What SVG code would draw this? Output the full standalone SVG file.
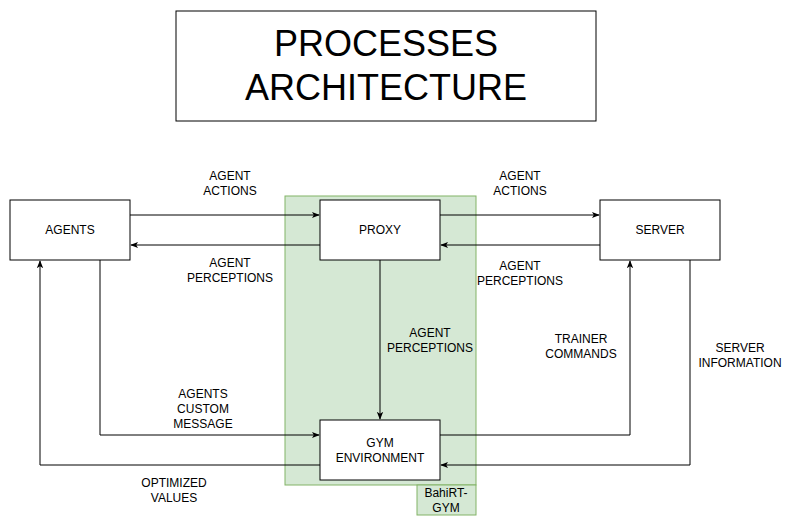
<svg xmlns="http://www.w3.org/2000/svg" width="793" height="526" viewBox="0 0 793 526">
<style>
.box{fill:#fff;stroke:#000;stroke-width:1}
.t{font-family:"Liberation Sans",Arial,sans-serif;font-size:12px;fill:#000;text-anchor:middle}
.e{fill:none;stroke:#000;stroke-width:1}
</style>
<defs>
<marker id="a" viewBox="0 0 10 10" refX="9" refY="5" markerWidth="8" markerHeight="8" markerUnits="userSpaceOnUse" orient="auto">
<path d="M0,1 L10,5 L0,9 L2.5,5 Z" fill="#000"/>
</marker>
</defs>
<rect width="793" height="526" fill="#fff"/>
<g id="title">
<rect class="box" x="176" y="11" width="420" height="110"/>
<text class="t" x="386" y="56" style="font-size:36px">PROCESSES</text>
<text class="t" x="386" y="100" style="font-size:36px">ARCHITECTURE</text>
</g>
<g id="bahirt-gym">
<rect x="285" y="196" width="191" height="289" fill="#d5e8d4" stroke="#82b366"/>
<rect x="417" y="485" width="59" height="30" fill="#d5e8d4" stroke="#82b366"/>
<text class="t" x="446" y="497">BahiRT-</text>
<text class="t" x="446" y="512">GYM</text>
</g>
<g id="connectors">
<path class="e" d="M130,215 H319" marker-end="url(#a)"/>
<path class="e" d="M320,245 H131" marker-end="url(#a)"/>
<path class="e" d="M440,215 H599" marker-end="url(#a)"/>
<path class="e" d="M600,245 H441" marker-end="url(#a)"/>
<path class="e" d="M380,260 V419" marker-end="url(#a)"/>
<path class="e" d="M100,260 V435 H319" marker-end="url(#a)"/>
<path class="e" d="M320,465 H40 V261" marker-end="url(#a)"/>
<path class="e" d="M440,435 H630 V261" marker-end="url(#a)"/>
<path class="e" d="M690,260 V465 H441" marker-end="url(#a)"/>
<text class="t" x="230" y="180">AGENT</text>
<text class="t" x="230" y="195">ACTIONS</text>
<text class="t" x="230" y="267">AGENT</text>
<text class="t" x="230" y="282">PERCEPTIONS</text>
<text class="t" x="520" y="180">AGENT</text>
<text class="t" x="520" y="195">ACTIONS</text>
<text class="t" x="520" y="270">AGENT</text>
<text class="t" x="520" y="285">PERCEPTIONS</text>
<text class="t" x="430" y="337">AGENT</text>
<text class="t" x="430" y="352">PERCEPTIONS</text>
<text class="t" x="581" y="343">TRAINER</text>
<text class="t" x="581" y="358">COMMANDS</text>
<text class="t" x="740" y="352">SERVER</text>
<text class="t" x="740" y="367">INFORMATION</text>
<text class="t" x="203" y="398">AGENTS</text>
<text class="t" x="203" y="413">CUSTOM</text>
<text class="t" x="203" y="428">MESSAGE</text>
<text class="t" x="174" y="487">OPTIMIZED</text>
<text class="t" x="174" y="502">VALUES</text>
</g>
<g id="agents">
<rect class="box" x="10" y="200" width="120" height="60"/>
<text class="t" x="70" y="234">AGENTS</text>
</g>
<g id="proxy">
<rect class="box" x="320" y="200" width="120" height="60"/>
<text class="t" x="380" y="234">PROXY</text>
</g>
<g id="server">
<rect class="box" x="600" y="200" width="120" height="60"/>
<text class="t" x="660" y="234">SERVER</text>
</g>
<g id="gym">
<rect class="box" x="320" y="420" width="120" height="60"/>
<text class="t" x="380" y="447">GYM</text>
<text class="t" x="380" y="462">ENVIRONMENT</text>
</g>
</svg>
